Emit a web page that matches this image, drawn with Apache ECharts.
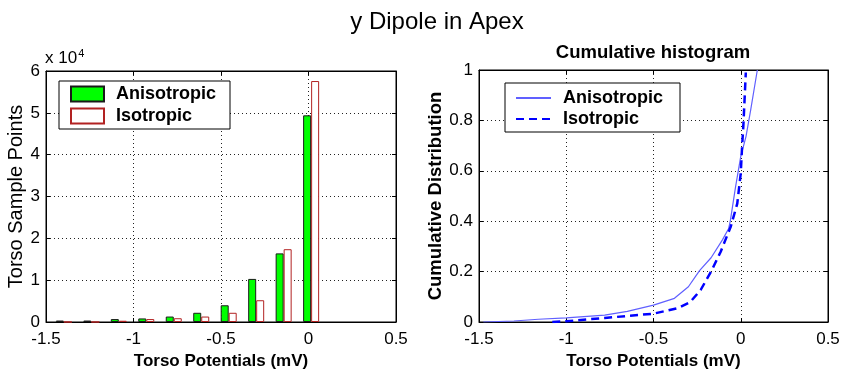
<!DOCTYPE html>
<html>
<head>
<meta charset="utf-8">
<script src="https://cdn.jsdelivr.net/npm/echarts@6/dist/echarts.min.js"></script>
<style>
  html, body { margin: 0; padding: 0; background: #fff; }
  #chart { width: 842px; height: 372px; }
</style>
</head>
<body>
<div id="chart"></div>
<script>
// histogram bin centres (mV) and counts
const binCenters = [-1.398, -1.241, -1.084, -0.927, -0.770, -0.613, -0.456, -0.299, -0.142, 0.015];
const anisoCounts = [350, 350, 700, 850, 1300, 2200, 4000, 10300, 16400, 49400];
const isoCounts = [0, 0, 300, 700, 900, 1300, 2200, 5200, 17400, 57600];

// cumulative distribution
const anisoCdfX = [-1.475, -1.3, -1.16, -1.0, -0.78, -0.65, -0.5, -0.38, -0.3, -0.26, -0.235, -0.17, -0.105, -0.07, -0.06, -0.03, 0.0, 0.03, 0.057, 0.095];
const anisoCdfY = [0.0, 0.004, 0.011, 0.016, 0.027, 0.042, 0.067, 0.094, 0.14, 0.18, 0.205, 0.255, 0.326, 0.37, 0.40, 0.535, 0.657, 0.736, 0.842, 1.0];
const isoCdfX = [-1.08, -1.0, -0.78, -0.5, -0.36, -0.29, -0.23, -0.17, -0.115, -0.057, -0.02, 0.0, 0.008, 0.015, 0.029];
const isoCdfY = [0.0, 0.003, 0.016, 0.033, 0.055, 0.079, 0.127, 0.2, 0.279, 0.379, 0.47, 0.59, 0.7, 0.78, 0.99];

const xTicks = [-1.5, 0.5, 0.5]; // min, max, interval
const font = "'Liberation Sans', Arial, sans-serif";

const zip = (a, b) => a.map((v, i) => [v, b[i]]);

const chart = echarts.init(document.getElementById('chart'));

const gridLine = { show: true, lineStyle: { color: '#222', type: [1, 3], width: 1 } };
const tickLabel = { fontFamily: font, fontSize: 17, color: '#000' };
const nameStyle = { fontFamily: font, fontSize: 17, fontWeight: 'bold', color: '#000' };

function xAxisFor(gridIndex, position) {
  const main = position === 'bottom';
  return {
    type: 'value', gridIndex, position,
    min: xTicks[0], max: xTicks[1], interval: xTicks[2],
    axisLine: { show: true, onZero: false, lineStyle: { color: '#000' } },
    axisTick: { show: true, inside: true, length: 4, lineStyle: { color: '#000' } },
    axisLabel: main ? Object.assign({ margin: 9, formatter: v => String(v) }, tickLabel) : { show: false },
    splitLine: main ? gridLine : { show: false },
    name: main ? 'Torso Potentials (mV)' : '',
    nameLocation: 'middle', nameGap: 24, nameTextStyle: nameStyle
  };
}

function yAxisFor(gridIndex, position, opts) {
  const main = position === 'left';
  return {
    type: 'value', gridIndex, position,
    min: opts.min, max: opts.max, interval: opts.interval,
    axisLine: { show: true, onZero: false, lineStyle: { color: '#000' } },
    axisTick: { show: true, inside: true, length: 4, lineStyle: { color: '#000' } },
    axisLabel: main ? Object.assign({ margin: 6, formatter: opts.fmt }, tickLabel) : { show: false },
    splitLine: main ? gridLine : { show: false },
    name: main ? opts.name : '',
    nameLocation: 'middle', nameGap: opts.nameGap, nameTextStyle: opts.nameStyle
  };
}

const leftY = { min: 0, max: 60000, interval: 10000, fmt: v => String(v / 10000),
  name: 'Torso Sample Points', nameGap: 12,
  nameStyle: { fontFamily: font, fontSize: 20, color: '#000' } };
const rightY = { min: 0, max: 1, interval: 0.2, fmt: v => String(+v.toFixed(1)),
  name: 'Cumulative Distribution', nameGap: 30,
  nameStyle: Object.assign({}, nameStyle, { fontSize: 18.5 }) };

const option = {
  animation: false,
  backgroundColor: '#fff',
  title: [
    { text: 'y Dipole in Apex', left: 432, top: 5, textAlign: 'center',
      textStyle: { fontFamily: font, fontSize: 24, fontWeight: 'normal', color: '#000' } },
    { text: 'Cumulative histogram', left: 648, top: 38, textAlign: 'center',
      textStyle: { fontFamily: font, fontSize: 18.5, fontWeight: 'bold', color: '#000' } }
  ],
  graphic: [
    { type: 'text', left: 45, top: 48,
      style: { text: 'x 10{sup|4}', fontFamily: font, fontSize: 17, fill: '#000',
        rich: { sup: { fontSize: 11, verticalAlign: 'top', padding: [0, 0, 9, 1] } } } }
  ],
  grid: [
    { left: 46, right: 446, top: 71, bottom: 50, outerBoundsMode: 'none', containLabel: false,
      show: true, borderColor: '#000', borderWidth: 1 },
    { left: 479, right: 14, top: 70, bottom: 50, outerBoundsMode: 'none', containLabel: false,
      show: true, borderColor: '#000', borderWidth: 1 }
  ],
  xAxis: [xAxisFor(0, 'bottom'), xAxisFor(0, 'top'), xAxisFor(1, 'bottom'), xAxisFor(1, 'top')],
  yAxis: [yAxisFor(0, 'left', leftY), yAxisFor(0, 'right', leftY), yAxisFor(1, 'left', rightY), yAxisFor(1, 'right', rightY)],
  legend: [
    {
      data: ['Anisotropic', 'Isotropic'], orient: 'vertical', left: 59, top: 81,
      icon: 'rect', padding: [4, 14, 4, 11], itemGap: 4, itemWidth: 33, itemHeight: 15,
      borderColor: '#000', borderWidth: 1, backgroundColor: '#fff',
      textStyle: { fontFamily: font, fontSize: 18, fontWeight: 'bold', color: '#000', padding: [0, 0, 0, 7] }
    },
    {
      data: ['Anisotropic ', 'Isotropic '], orient: 'vertical', left: 505, top: 83,
      padding: [6, 12, 4, 10], itemGap: 3, itemWidth: 35, itemHeight: 14,
      itemStyle: { opacity: 0 },
      borderColor: '#000', borderWidth: 1, backgroundColor: '#fff',
      textStyle: { fontFamily: font, fontSize: 18, fontWeight: 'bold', color: '#000', padding: [0, 0, 0, 7] }
    }
  ],
  series: [
    {
      name: 'Anisotropic', type: 'bar', xAxisIndex: 0, yAxisIndex: 0,
      data: zip(binCenters, anisoCounts), barWidth: 8, barGap: '0%',
      itemStyle: { color: '#00ff00', borderColor: '#1a1a1a', borderWidth: 1 }
    },
    {
      name: 'Isotropic', type: 'bar', xAxisIndex: 0, yAxisIndex: 0,
      data: zip(binCenters, isoCounts), barWidth: 8, barGap: '0%',
      itemStyle: { color: '#ffffff', borderColor: '#b22222', borderWidth: 1 }
    },
    {
      name: 'Anisotropic ', type: 'line', xAxisIndex: 2, yAxisIndex: 2,
      data: zip(anisoCdfX, anisoCdfY), symbol: 'none',
      lineStyle: { color: '#6060ff', width: 1.2 }, itemStyle: { color: '#6060ff' }
    },
    {
      name: 'Isotropic ', type: 'line', xAxisIndex: 2, yAxisIndex: 2,
      data: zip(isoCdfX, isoCdfY), symbol: 'none',
      lineStyle: { color: '#0000ff', width: 2.5, type: [8, 5] }, itemStyle: { color: '#0000ff' }
    }
  ]
};

chart.setOption(option);
</script>
</body>
</html>
